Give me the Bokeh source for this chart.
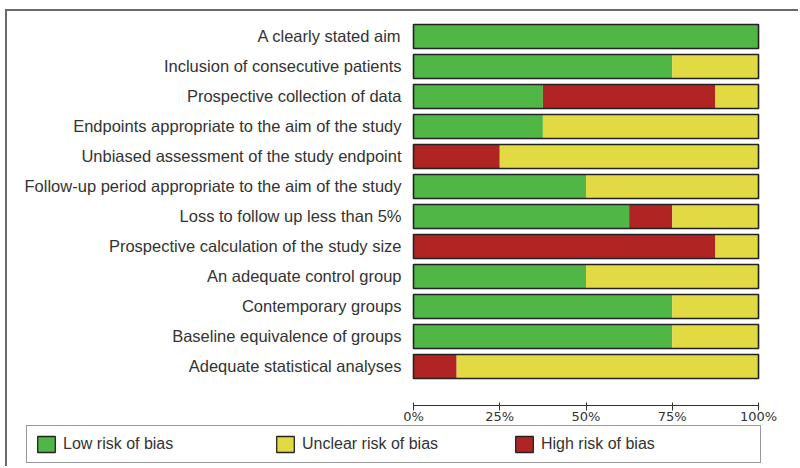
from bokeh.plotting import figure
from bokeh.models import Range1d, FixedTicker, Legend, LegendItem, ColumnDataSource
from bokeh.embed import file_html
from bokeh.resources import INLINE

categories = [
    "A clearly stated aim",
    "Inclusion of consecutive patients",
    "Prospective collection of data",
    "Endpoints appropriate to the aim of the study",
    "Unbiased assessment of the study endpoint",
    "Follow-up period appropriate to the aim of the study",
    "Loss to follow up less than 5%",
    "Prospective calculation of the study size",
    "An adequate control group",
    "Contemporary groups",
    "Baseline equivalence of groups",
    "Adequate statistical analyses",
]
low_risk = [100, 75, 37.5, 37.5, 0, 50, 62.5, 0, 50, 75, 75, 0]
high_risk = [0, 0, 50, 0, 25, 0, 12.5, 87.5, 0, 0, 0, 12.5]
unclear_risk = [0, 25, 12.5, 62.5, 75, 50, 25, 12.5, 50, 25, 25, 87.5]
series_names = ["Low risk of bias", "Unclear risk of bias", "High risk of bias"]
tick_values = [0, 25, 50, 75, 100]
tick_labels = ["0%", "25%", "50%", "75%", "100%"]

GREEN = "#50B747"
YELLOW = "#E1DA43"
RED = "#B02424"
TEXT = "#333333"
FONT = "Liberation Sans"

n = len(categories)
ys = [n - 1 - i for i in range(n)]
low_end = list(low_risk)
high_end = [l + h for l, h in zip(low_risk, high_risk)]
total = [l + h + u for l, h, u in zip(low_risk, high_risk, unclear_risk)]

src = ColumnDataSource(dict(y=ys, zero=[0] * n, low_end=low_end,
                            high_end=high_end, total=total))

# the frame covers the whole canvas; axes are pinned inside it
p = figure(width=793, height=457,
           x_range=Range1d(-117.68, 112.17),
           y_range=Range1d(-3.4, n - 1 + 0.8333),
           output_backend="svg", toolbar_location=None,
           min_border_left=0, min_border_right=0,
           min_border_top=0, min_border_bottom=0,
           margin=(9, 0, 0, 5),
           styles={"border-top": "2px solid #6a6a6a",
                   "border-left": "2px solid #6a6a6a"})
p.outline_line_color = None
p.xgrid.visible = False
p.ygrid.visible = False

BH = 0.8
p.hbar(y="y", left="zero", right="low_end", height=BH, source=src,
       fill_color=GREEN, line_color=None)
p.hbar(y="y", left="low_end", right="high_end", height=BH, source=src,
       fill_color=RED, line_color=None)
p.hbar(y="y", left="high_end", right="total", height=BH, source=src,
       fill_color=YELLOW, line_color=None)
p.hbar(y="y", left="zero", right="total", height=BH, source=src,
       fill_color=None, line_color="#222222", line_width=1.6)

# legend swatches (renderers that draw nothing in the plot itself)
nan = float("nan")
leg_renderers = []
for c in [GREEN, YELLOW, RED]:
    r = p.hbar(y=[nan], left=[nan], right=[nan], height=BH, fill_color=c,
               line_color="#222222", line_width=1.3)
    leg_renderers.append(r)

legend = Legend(items=[LegendItem(label=nm, renderers=[r])
                       for nm, r in zip(series_names, leg_renderers)],
                orientation="horizontal", location=(19, 5), margin=0,
                glyph_width=22, glyph_height=20, label_standoff=6,
                label_width=211, spacing=0, padding=8,
                label_text_font=FONT, label_text_font_size="16px",
                label_text_color=TEXT, label_height=20,
                border_line_color="#333333", border_line_width=1.5,
                background_fill_color=None, background_fill_alpha=0.0)
p.add_layout(legend, "center")

# y axis with category labels, pinned at x = 0
p.yaxis.fixed_location = 0
p.yaxis.ticker = FixedTicker(ticks=ys)
p.yaxis.major_label_overrides = {y: c for y, c in zip(ys, categories)}
p.yaxis.axis_line_color = None
p.yaxis.major_tick_line_color = None
p.yaxis.major_tick_in = 0
p.yaxis.major_tick_out = 0
p.yaxis.minor_tick_line_color = None
p.yaxis.major_label_standoff = 12
p.yaxis.major_label_text_font = FONT
p.yaxis.major_label_text_font_size = "16.5px"
p.yaxis.major_label_text_color = TEXT

# x axis pinned below the bars
p.xaxis.fixed_location = -1.3
p.xaxis.bounds = (tick_values[0], tick_values[-1])
p.xaxis.ticker = FixedTicker(ticks=tick_values)
p.xaxis.major_label_overrides = {v: t for v, t in zip(tick_values, tick_labels)}
p.xaxis.axis_line_color = "#333333"
p.xaxis.major_tick_line_color = "#333333"
p.xaxis.major_tick_in = 3
p.xaxis.major_tick_out = 5
p.xaxis.minor_tick_line_color = None
p.xaxis.major_label_standoff = -1
p.xaxis.major_label_text_font = "DejaVu Sans"
p.xaxis.major_label_text_font_size = "13px"
p.xaxis.major_label_text_color = TEXT

open("out.html", "w").write(file_html(p, INLINE))
